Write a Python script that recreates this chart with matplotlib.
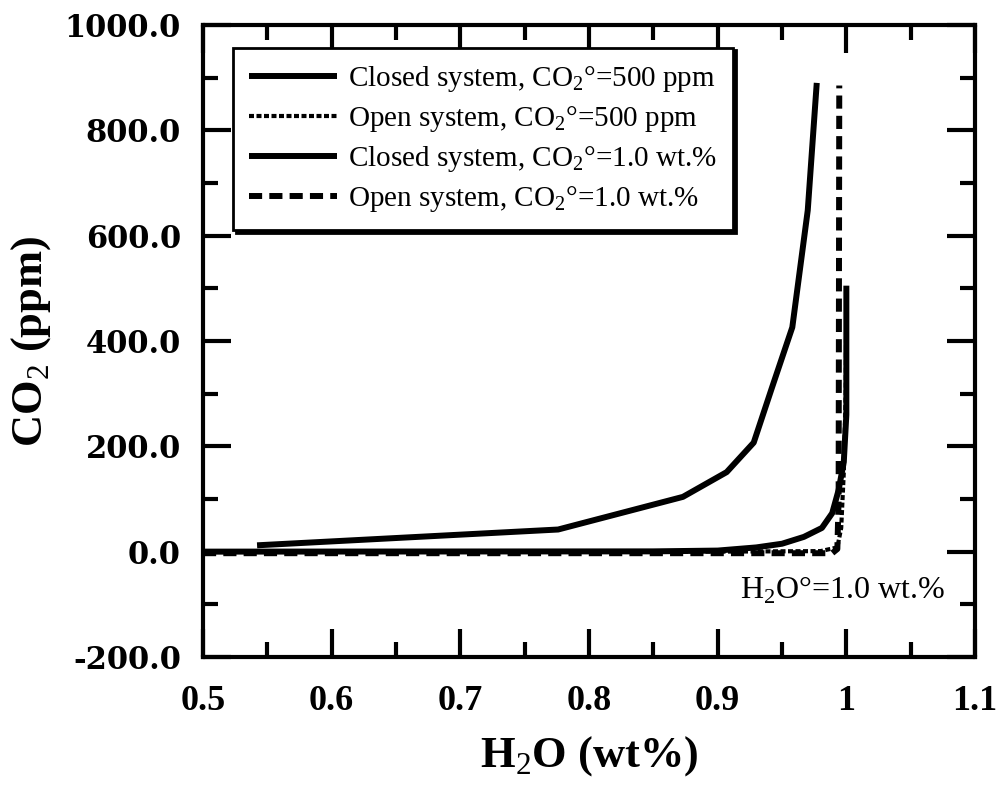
#!/usr/bin/env python3
"""CO2 vs H2O degassing paths: closed vs open system, two initial CO2 contents."""

import matplotlib
matplotlib.use("Agg")
import matplotlib.pyplot as plt
from matplotlib.ticker import MultipleLocator, FormatStrFormatter

# Closed system, CO2° = 500 ppm
closed_500_h2o = [0.542, 0.776, 0.873, 0.907, 0.928, 0.942, 0.958, 0.970, 0.977]
closed_500_co2 = [12, 42, 104, 151, 207, 310, 426, 648, 890]

# Open system, CO2° = 500 ppm
open_500_h2o = [0.50, 0.90, 0.98, 0.993, 0.996, 0.998, 0.9995, 1.0]
open_500_co2 = [0, 0, 1, 8, 45, 150, 300, 500]

# Closed system, CO2° = 1.0 wt.%
closed_1_h2o = [0.50, 0.85, 0.90, 0.93, 0.95, 0.967, 0.981, 0.989, 0.994, 0.998, 1.0, 1.0]
closed_1_co2 = [0, 0.5, 2, 8, 15, 28, 45, 73, 117, 170, 260, 505]

# Open system, CO2° = 1.0 wt.%
open_1_h2o = [0.50, 0.989, 0.993, 0.994, 0.9945]
open_1_co2 = [-3, -3, 5, 100, 885]

X_TICKS = [0.5, 0.6, 0.7, 0.8, 0.9, 1.0, 1.1]
X_TICK_LABELS = ["0.5", "0.6", "0.7", "0.8", "0.9", "1", "1.1"]

SERIF = ["Liberation Serif", "DejaVu Serif"]

plt.rcParams.update({
    "font.family": "serif",
    "font.serif": SERIF,
    "axes.unicode_minus": False,
    "mathtext.fontset": "custom",
    "mathtext.rm": "Liberation Serif",
    "mathtext.bf": "Liberation Serif:bold",
})

fig = plt.figure(figsize=(10.06, 7.85), dpi=100)
ax = fig.add_axes([0.2018, 0.1631, 0.7674, 0.8051])

lw = 4.3
ax.plot(closed_500_h2o, closed_500_co2, color="black", lw=lw, ls="-",
        solid_capstyle="butt", label=r"Closed system, CO$_2$°=500 ppm")
ax.plot(open_500_h2o, open_500_co2, color="black", lw=3.0, ls=(0, (1.2, 0.6)),
        label=r"Open system, CO$_2$°=500 ppm")
ax.plot(closed_1_h2o, closed_1_co2, color="black", lw=lw, ls="-",
        solid_capstyle="butt", label=r"Closed system, CO$_2$°=1.0 wt.%")
ax.plot(open_1_h2o, open_1_co2, color="black", lw=lw, ls=(0, (2.2, 1.2)),
        label=r"Open system, CO$_2$°=1.0 wt.%")

ax.set_xlim(0.5, 1.1)
ax.set_ylim(-200, 1000)
ax.set_xticks(X_TICKS)
ax.set_xticklabels(X_TICK_LABELS)
ax.xaxis.set_minor_locator(MultipleLocator(0.05))
ax.yaxis.set_major_locator(MultipleLocator(200))
ax.yaxis.set_minor_locator(MultipleLocator(100))
ax.yaxis.set_major_formatter(FormatStrFormatter("%.1f"))

ax.tick_params(which="both", direction="in", top=True, right=True, width=3, color="black")
ax.tick_params(which="major", length=20)
ax.tick_params(which="minor", length=11)
ax.tick_params(axis="x", which="major", pad=20, labelsize=26)
ax.tick_params(axis="y", which="major", pad=16, labelsize=22)
for lab in ax.get_xticklabels():
    lab.set_fontweight("bold")
for lab in ax.get_yticklabels():
    lab.set_fontweight("bold")
    lab.set_family(["DejaVu Serif"])

for sp in ax.spines.values():
    sp.set_linewidth(3)

ax.set_xlabel(r"H$_2$O (wt%)", fontsize=32, fontweight="bold", labelpad=12)
ax.set_ylabel(r"CO$_2$ (ppm)", fontsize=32, fontweight="bold", labelpad=8)

ax.text(1.077, -73, r"H$_2$O°=1.0 wt.%", fontsize=23, ha="right", va="center")

leg = ax.legend(loc="upper left", bbox_to_anchor=(0.039, 0.964), fontsize=21,
                frameon=True, fancybox=False, edgecolor="black", framealpha=1,
                handlelength=3.0, handletextpad=0.4, labelspacing=0.35,
                borderpad=0.55, borderaxespad=0,
                shadow={"color": "black", "alpha": 1})
leg.get_frame().set_linewidth(2)

fig.savefig("out.png", dpi=100)
